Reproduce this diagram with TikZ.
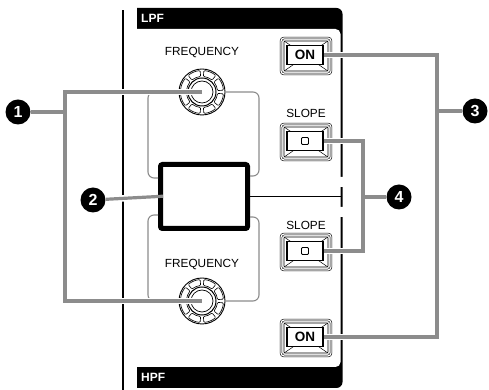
\documentclass[tikz,border=0pt]{standalone}
\usepackage{fontspec}
\setmainfont{Liberation Sans}
\usetikzlibrary{calc, positioning, shapes.misc}
\definecolor{leadgray}{HTML}{8C8C8C}

\tikzset{
  lbl/.style={font=\fontsize{11.8}{13}\selectfont},
  paneltitle/.style={anchor=west, inner sep=0pt, text=white, font=\bfseries\fontsize{12}{13}\selectfont},
  display/.style={draw, line width=5pt, rounded corners=2pt, minimum width=87pt, minimum height=64pt},
  btnframe/.style={draw, double, line width=0.6pt, double distance=1.2pt, rounded corners=3pt, minimum width=50pt, minimum height=36pt, inner sep=0pt},
  btnbevel/.style={draw, line width=0.6pt, rounded corners=1pt, minimum width=44pt, minimum height=30pt, inner sep=0pt},
  btnkey/.style={draw, fill=white, line width=1.5pt, minimum width=36pt, minimum height=19pt, inner sep=0pt, font=\bfseries\fontsize{13.5}{14}\selectfont},
  slopemark/.style={draw, line width=0.8pt, rounded corners=1pt, minimum size=7pt, inner sep=0pt},
  callout/.style={circle, fill=black, text=white, minimum size=25pt, inner sep=0pt, font=\bfseries\fontsize{16}{16}\selectfont},
  group/.style={draw=leadgray, line width=1.1pt, rounded corners=6pt},
  lead/.style={draw=leadgray, line width=3.2pt, preaction={draw=white, line width=6.5pt, shorten <=2pt}},
  leadin/.style={draw=leadgray, line width=3.2pt, shorten >=-5pt, preaction={draw=white, line width=6.5pt, shorten >=14pt}}
}

\begin{document}
\begin{tikzpicture}[x=1pt, y=1pt]
\useasboundingbox (0,0) rectangle (489,390);

% panel
\fill (137,2) -- (137,382) -- (336.5,382) arc[start angle=90, end angle=0, radius=6pt]
  -- (342.5,8) arc[start angle=0, end angle=-90, radius=6pt] -- cycle;
\fill[white, rounded corners=5pt] (130,23) rectangle (340.5,361);
\fill[white] (338,173) rectangle (345,183) (338,203) rectangle (345,213);
\node[paneltitle] (lpf) at (141,371.5) {LPF};
\node[paneltitle] (hpf) at (141,12.5) {HPF};
\draw[line width=1.4pt] (123,0) -- (123,380);

% knobs
\coordinate (fq1) at (202,298);
\coordinate (fq2) at (202,89);
\node[lbl] (fq1l) at (202,337) {FREQUENCY};
\node[lbl] (fq2l) at (202,126) {FREQUENCY};
\foreach \k in {fq1,fq2} {
  \draw[line width=0.9pt] (\k) circle (23pt);
  \draw[line width=1pt] (\k) circle (14pt);
  \draw[line width=0.7pt] (\k) circle (11pt);
  \foreach \a in {0,45,...,315}
    \draw[line width=0.6pt, rounded corners=1pt]
      ([shift={(\a+5:15.5pt)}]\k) arc[start angle=\a+5, end angle=\a+40, radius=15.5pt]
      -- ([shift={(\a+40:21.5pt)}]\k) arc[start angle=\a+40, end angle=\a+5, radius=21.5pt] -- cycle;
}

% display
\node[display] (disp) at (204,193.5) {};
\coordinate (edge) at (341,193.5);
\draw[line width=1.3pt] (disp.east) -- (edge);
\draw[group] (181,298) -| (148,212) -- (158,212);
\draw[group] (224,298) -| (259,214) -- (250,214);
\draw[group] (158,175) -| (148,89) -- (180,89);
\draw[group] (250,173) -| (259,89) -- (224,89);

% buttons
\node[lbl] (sl1l) at (306,277) {SLOPE};
\node[lbl] (sl2l) at (306,165) {SLOPE};
\foreach \b/\y/\t in {on1/334/ON, sl1/248/{}, sl2/138/{}, on2/52/ON} {
  \node[btnframe] (\b) at (306,\y) {};
  \node[btnbevel] (\b-bev) at (\b) {};
  \foreach \c in {north west, north east, south west, south east}
    \draw[line width=0.5pt] (\b-bev.\c) -- ($(\b-bev.\c)!0.55!(\b.center)$);
  \node[btnkey] (\b-key) at ([shift={(-1,1)}]\b) {\t};
}
\node[slopemark] at (sl1-key) {};
\node[slopemark] at (sl2-key) {};

% callouts
\node[callout] (n1) at (18,278) {1};
\node[callout] (n2) at (93,190) {2};
\node[callout] (n3) at (475,279) {3};
\node[callout] (n4) at (399,193) {4};
\coordinate (j1) at (65,278);
\coordinate (j3) at (437,279);
\coordinate (j4) at (363,193);

\draw[lead] (fq1) -| (j1) |- (fq2);
\draw[lead] (j1) -- (n1);
\draw[lead] (on1-key.east) -| (j3) |- (on2-key.east);
\draw[lead] (j3) -- (n3);
\draw[lead] (sl1-key.east) -| (j4) |- (sl2-key.east);
\draw[lead] (j4) -- (n4);
\draw[leadin] (n2) -- (disp.west);
\end{tikzpicture}
\end{document}
